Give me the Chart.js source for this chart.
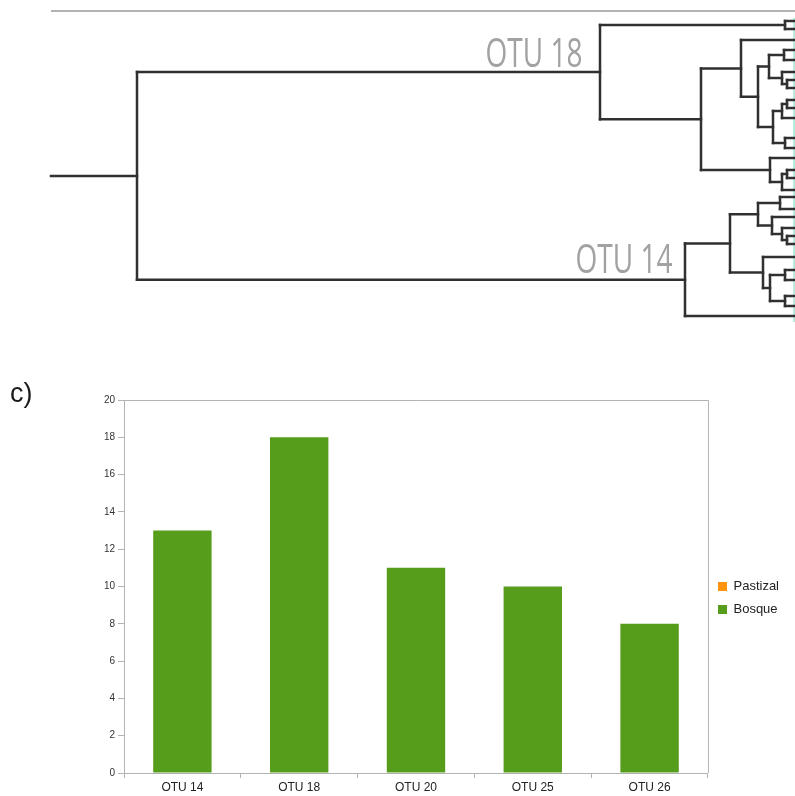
<!DOCTYPE html>
<html>
<head>
<meta charset="utf-8">
<script src="https://cdn.jsdelivr.net/npm/chart.js@4/dist/chart.umd.min.js"></script>
<style>
  body { margin: 0; background: #fff; width: 795px; height: 796px; position: relative; overflow: hidden; font-family: "Liberation Sans", Arial, sans-serif; }
  #treeWrap { position: absolute; left: 0; top: 0; width: 795px; height: 335px; }
  #barWrap { position: absolute; left: 0; top: 380px; width: 795px; height: 416px; }
  .otu { position: absolute; font-family: "Open Sans", sans-serif; font-size: 40px; color: #a2a2a2; transform-origin: right bottom; transform: scaleX(0.7); white-space: nowrap; line-height: 1; }
  #panel { position: absolute; left: 10px; top: 378px; font-size: 27px; color: #1a1a1a; }
</style>
</head>
<body>
<div id="treeWrap"><canvas id="treeChart" width="795" height="335"></canvas></div>
<div id="barWrap"><canvas id="barChart" width="795" height="416"></canvas></div>
<div class="otu" id="lab18" style="right:213px; top:32px;">OTU 18</div>
<div class="otu" id="lab14" style="right:123px; top:238px;">OTU 14</div>
<div id="panel">c)</div>
<script>
// Bar chart data
const categories = ["OTU 14", "OTU 18", "OTU 20", "OTU 25", "OTU 26"];
const pastizal = [0, 0, 0, 0, 0];
const bosque = [13, 18, 11, 10, 8];
const yMax = 20;
const yStep = 2;

// Dendrogram: node = [branch x, ...children], leaf = its y position
const tipX = 795;
const rootStartX = 51;
const tree = [137,
  [600,
    [785, 21, 29],
    [701,
      [741, 40,
        [758,
          [769, [784, 50, 60], [782, 72, [787, 80, 88]]],
          [773, [782, [787, 100, 108], 118], [785, 138, 148]]]],
      [770, 158, [782, [787, 170, 178], 190]]]],
  [685,
    [730,
      [758, [780, 197, 209], [772, 217, [782, 228, [787, 236, 244]]]],
      [763, 257, [770, [785, 270, 280], [785, 296, 306]]]],
    316]];

document.addEventListener("DOMContentLoaded", () => {
  // ---- dendrogram ----
  const segments = []; // each segment is a pair of points

  function walk(node) {
    if (typeof node === "number") return node; // leaf
    const x = node[0];
    const kids = node.slice(1);
    const ys = kids.map(walk);
    kids.forEach((kid, i) => {
      const kx = typeof kid === "number" ? tipX : kid[0];
      segments.push([{ x: x, y: ys[i] }, { x: kx, y: ys[i] }]);
    });
    segments.push([{ x: x, y: ys[0] }, { x: x, y: ys[ys.length - 1] }]);
    return (ys[0] + ys[ys.length - 1]) / 2;
  }
  const rootY = walk(tree);
  segments.push([{ x: rootStartX, y: rootY }, { x: tree[0], y: rootY }]);

  const treeSets = segments.map((seg) => ({
    data: seg,
    showLine: true,
    borderColor: "#303030",
    borderWidth: 2.5,
    borderCapStyle: "square",
    pointRadius: 0,
    clip: false,
  }));
  // thin scale line on top and the edge line on the right
  treeSets.push({ data: [{ x: rootStartX, y: 11 }, { x: tipX, y: 11 }], showLine: true, borderColor: "#9a9a9a", borderWidth: 1.5, pointRadius: 0, clip: false });
  treeSets.push({ data: [{ x: 794, y: 18 }, { x: 794, y: 322 }], showLine: true, borderColor: "#a8ecd8", borderWidth: 1, pointRadius: 0, clip: false });

  new Chart(document.getElementById("treeChart").getContext("2d"), {
    type: "scatter",
    data: { datasets: treeSets },
    options: {
      responsive: false,
      animation: false,
      events: [],
      layout: { padding: 0 },
      plugins: { legend: { display: false }, tooltip: { enabled: false } },
      scales: {
        x: { type: "linear", min: 0, max: 795, display: false },
        y: { type: "linear", min: 0, max: 335, reverse: true, display: false },
      },
    },
  });

  // ---- bar chart ----
  // draw the top and right edges of the plot frame
  const frame = {
    id: "frame",
    afterDraw(chart) {
      const a = chart.chartArea;
      const c = chart.ctx;
      c.save();
      c.strokeStyle = "#b3b3b3";
      c.lineWidth = 1;
      c.beginPath();
      c.moveTo(a.left, a.top + 0.5);
      c.lineTo(a.right + 0.5, a.top + 0.5);
      c.lineTo(a.right + 0.5, a.bottom);
      c.stroke();
      c.restore();
    },
  };

  new Chart(document.getElementById("barChart").getContext("2d"), {
    type: "bar",
    data: {
      labels: categories,
      datasets: [
        { label: "Pastizal", data: pastizal, backgroundColor: "#ff950e", borderWidth: 0 },
        { label: "Bosque", data: bosque, backgroundColor: "#579d1c", borderWidth: 0 },
      ],
    },
    options: {
      responsive: false,
      animation: false,
      events: [],
      barPercentage: 0.5,
      categoryPercentage: 1.0,
      layout: { padding: { top: 20, right: 6, bottom: 0, left: 0 } },
      plugins: {
        tooltip: { enabled: false },
        legend: {
          position: "right",
          labels: {
            boxWidth: 9,
            boxHeight: 9,
            padding: 10,
            color: "#222",
            font: { family: "Liberation Sans", size: 13 },
          },
        },
      },
      scales: {
        x: {
          stacked: true,
          grid: { drawOnChartArea: false, tickLength: 5, color: "#b3b3b3" },
          border: { color: "#b3b3b3" },
          ticks: { color: "#222", font: { family: "Liberation Sans", size: 12 }, padding: 2 },
          afterFit: (s) => { s.height = 23; },
        },
        y: {
          stacked: true,
          min: 0,
          max: yMax,
          grid: { drawOnChartArea: false, tickLength: 6, color: "#b3b3b3" },
          border: { color: "#b3b3b3" },
          ticks: { stepSize: yStep, color: "#333", font: { family: "Liberation Sans", size: 10 }, padding: 3 },
          afterFit: (s) => { s.width = 124; },
        },
      },
    },
    plugins: [frame],
  });
});
</script>
</body>
</html>
